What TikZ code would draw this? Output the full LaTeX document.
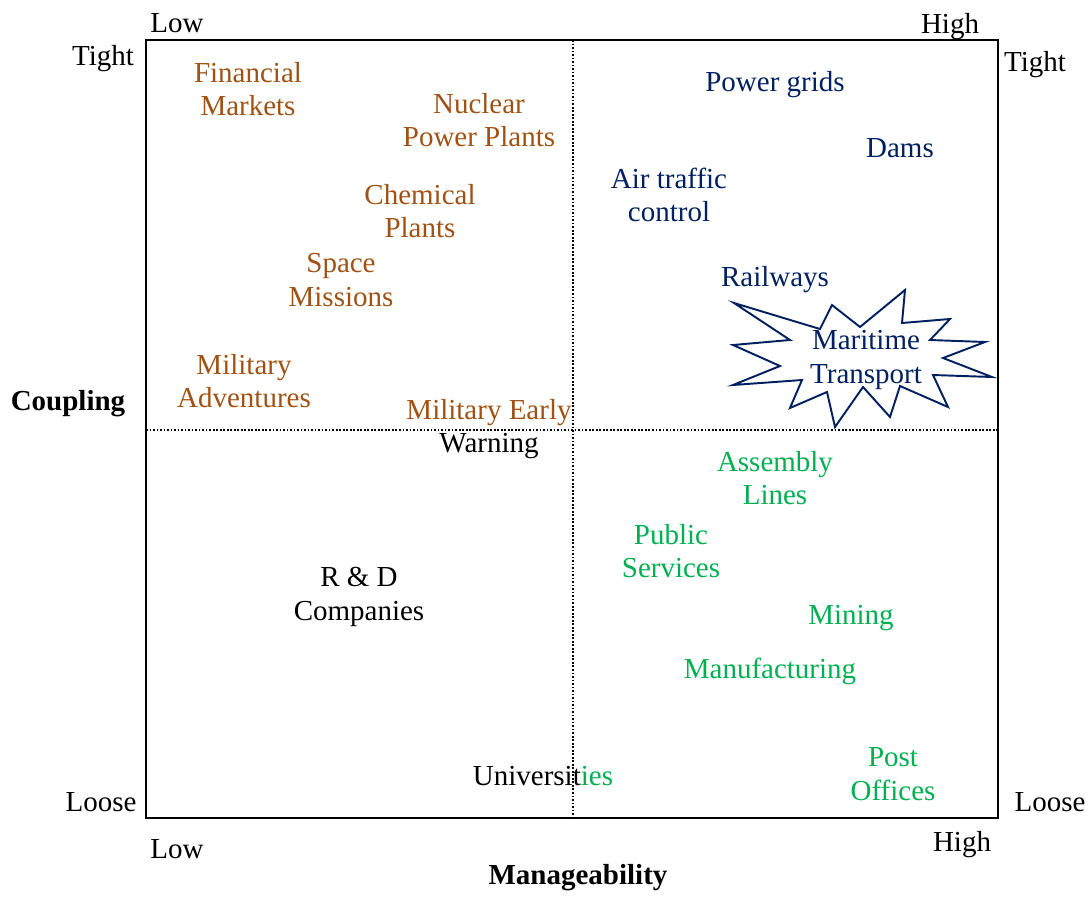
\documentclass[tikz,border=0pt]{standalone}
\usepackage{fontspec}
\setmainfont{Liberation Serif}
\usepackage{xcolor}
\usetikzlibrary{positioning}
\definecolor{tightcolor}{RGB}{160, 82, 20}
\definecolor{highcolor}{RGB}{0, 32, 96}
\definecolor{loosecolor}{RGB}{0, 176, 80}

\begin{document}
\begin{tikzpicture}[
    x=0.02cm, y=-0.02cm,
    lbl/.style={align=center, inner sep=0pt, font=\fontsize{16.5}{19.2}\selectfont},
    axis/.style={lbl, font=\fontsize{16.5}{19.2}\selectfont\bfseries},
    risky/.style={lbl, text=tightcolor},
    steady/.style={lbl, text=highcolor},
    easy/.style={lbl, text=loosecolor},
    divider/.style={line width=1pt, dash pattern=on 1pt off 1pt}
]
\useasboundingbox (0,0) rectangle (1092,896);

% frame and quadrant dividers
\draw[line width=1.1pt] (146,40) rectangle (998,818);
\coordinate (midtop) at (573,40);
\coordinate (midbot) at (573,818);
\coordinate (midleft) at (146,430);
\coordinate (midright) at (998,430);
\draw[divider] (midtop) -- (midbot);
\draw[divider] (midleft) -- (midright);

% scale labels
\node[lbl] (lowtop) at (177,23) {Low};
\node[lbl] (hightop) at (950,27) {High};
\node[lbl] (lowbot) at (177,849) {Low};
\node[lbl] (highbot) at (962,845) {High};
\node[lbl] (tightl) at (103,59) {Tight};
\node[lbl] (tightr) at (1035,65) {Tight};
\node[lbl] (loosel) at (101,802) {Loose};
\node[lbl] (looser) at (1050,802) {Loose};
\node[axis] (coupling) at (68,404) {Coupling};
\node[axis] (manage) at (578,878) {Manageability};

% tight, hard to manage
\node[risky] (finance) at (248,89) {Financial\\Markets};
\node[risky] (nuclear) at (479,120) {Nuclear\\Power Plants};
\node[risky] (chemical) at (420,211) {Chemical\\Plants};
\node[risky] (space) at (341,280) {Space\\Missions};
\node[risky] (adventure) at (244,381) {Military\\Adventures};
\node[lbl] (warning) at (489,429) {\textcolor{tightcolor}{Military Early}\\Warning};

% tight, manageable
\node[steady] (grids) at (775,85) {Power grids};
\node[steady] (dams) at (900,148) {Dams};
\node[steady] (airtraffic) at (669,195) {Air traffic\\control};
\node[steady] (railways) at (775,280) {Railways};
\draw[highcolor, line width=1.1pt, fill=white, line join=miter]
  (734,303) -- (820,329) -- (832,305) -- (860,327) -- (905,290) -- (902,323)
  -- (950,319) -- (930,340) -- (985,342) -- (943,358) -- (992,377) -- (933,375)
  -- (948,407) -- (900,386) -- (890,417) -- (863,387) -- (835,427) -- (827,392)
  -- (790,408) -- (802,380) -- (733,385) -- (780,366) -- (733,345) -- (790,340)
  -- cycle;
\node[steady] (maritime) at (866,360) {Maritime\\Transport};

% loose, manageable
\node[easy] (assembly) at (775,478) {Assembly\\Lines};
\node[easy] (public) at (671,551) {Public\\Services};
\node[easy] (mining) at (851,618) {Mining};
\node[easy] (manufact) at (770,671) {Manufacturing};
\node[easy] (post) at (893,774) {Post\\Offices};

% loose, hard to manage
\node[lbl] (rnd) at (359,597) {R \& D\\Companies};
\node[lbl] (univ) at (543,776) {Universit\textcolor{loosecolor}{ies}};

\end{tikzpicture}
\end{document}
